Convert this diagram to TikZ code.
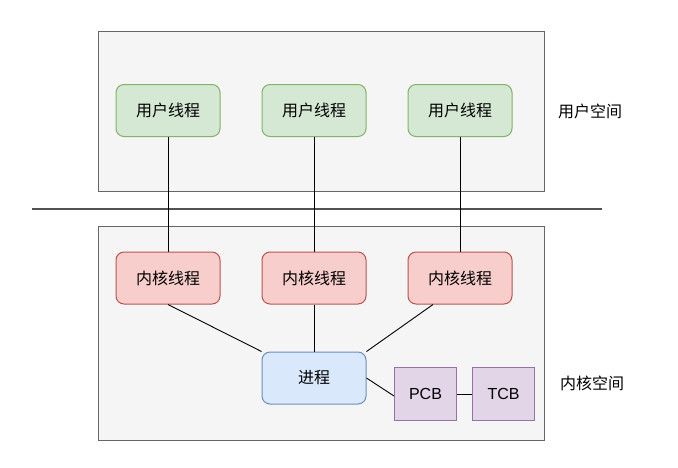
\documentclass[tikz,border=0pt]{standalone}
\usepackage{fontspec}
\setmainfont{Liberation Sans}
\newfontfamily\cjk{Noto Sans CJK SC}
\definecolor{boxfill}{HTML}{F5F5F5}
\definecolor{boxdraw}{HTML}{666666}
\definecolor{gfill}{HTML}{D5E8D4}
\definecolor{gdraw}{HTML}{82B366}
\definecolor{rfill}{HTML}{F8CECC}
\definecolor{rdraw}{HTML}{B85450}
\definecolor{bfill}{HTML}{DAE8FC}
\definecolor{bdraw}{HTML}{6C8EBF}
\definecolor{pfill}{HTML}{E1D5E7}
\definecolor{pdraw}{HTML}{9673A6}
\tikzset{
  area/.style={draw=boxdraw, fill=boxfill, line width=1pt},
  rbox/.style={rounded corners=8pt, minimum width=104pt, minimum height=52pt, line width=1pt, inner sep=0pt, font=\fontsize{16}{18}\selectfont\cjk},
  uthr/.style={rbox, draw=gdraw, fill=gfill},
  kthr/.style={rbox, draw=rdraw, fill=rfill},
  proc/.style={rbox, draw=bdraw, fill=bfill},
  cb/.style={draw=pdraw, fill=pfill, line width=1pt, minimum width=62pt, minimum height=53pt, inner sep=0pt, font=\fontsize{16}{18}\selectfont},
  lbl/.style={font=\fontsize{16}{18}\selectfont\cjk, inner sep=0pt},
  conn/.style={draw=black, line width=0.9pt}
}
\begin{document}
\begin{tikzpicture}[x=1pt, y=-1pt]
\useasboundingbox (0,0) rectangle (678,467);
\fill[white] (0,0) rectangle (678,467);
\draw[area] (98,31) rectangle (544,191);
\draw[area] (98,226) rectangle (544,440);
\coordinate (sepL) at (32,209);
\coordinate (sepR) at (602,209);
\draw[draw=boxdraw!80!black, line width=1.5pt] (sepL) -- (sepR);

\node[uthr] (u1) at (168,110.5) {用户线程};
\node[uthr] (u2) at (314,110.5) {用户线程};
\node[uthr] (u3) at (460,110.5) {用户线程};

\node[kthr] (k1) at (168,278) {内核线程};
\node[kthr] (k2) at (314,278) {内核线程};
\node[kthr] (k3) at (460,278) {内核线程};

\node[proc] (p) at (314,378) {进程};
\node[cb] (pcb) at (425.5,394) {PCB};
\node[cb] (tcb) at (503.5,394) {TCB};

\node[lbl] (us) at (590,111) {用户空间};
\node[lbl] (ks) at (592,383) {内核空间};

\draw[conn] (u1.south) -- (k1.north);
\draw[conn] (u2.south) -- (k2.north);
\draw[conn] (u3.south) -- (k3.north);
\draw[conn] (k1.south) -- (p.north west);
\draw[conn] (k2.south) -- (p.north);
\draw[conn] ([xshift=-27pt]k3.south) -- (p.north east);
\draw[conn] ([yshift=0pt]p.east) -- ([yshift=-2pt]pcb.west);
\draw[conn] (pcb.east) -- (tcb.west);
\end{tikzpicture}
\end{document}
